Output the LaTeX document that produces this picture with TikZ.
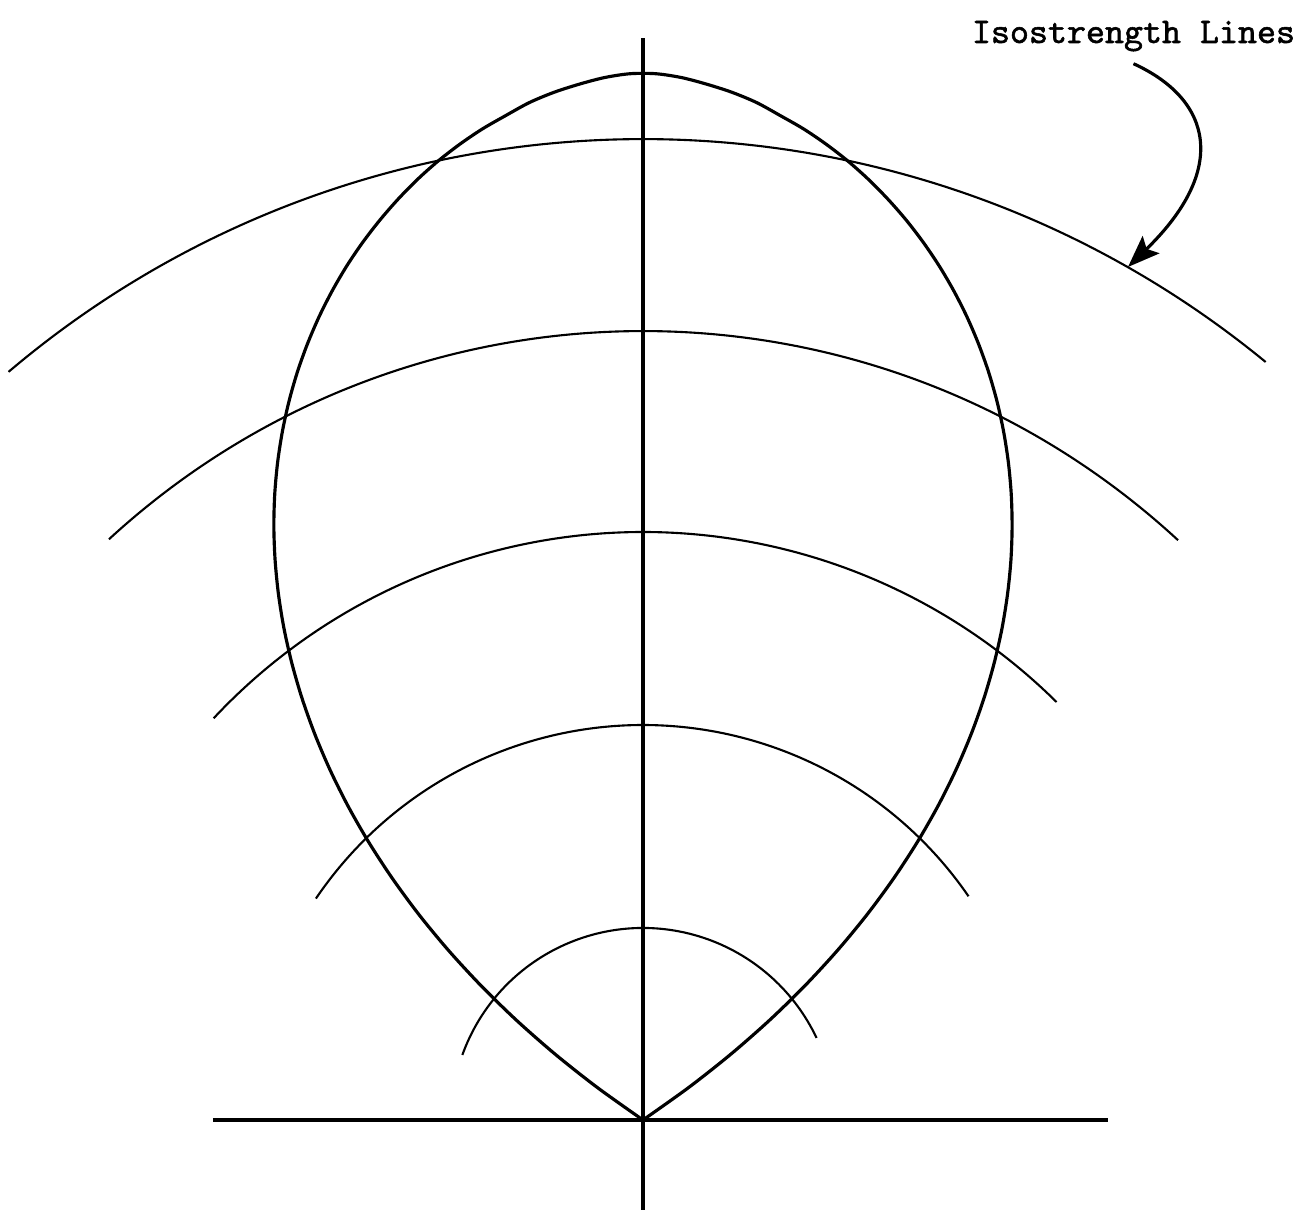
\documentclass[tikz,border=0pt]{standalone}
\usepackage{fontspec}
\newfontfamily\tagfont{lmmono10-regular.otf}[FakeBold=1.5]
\usetikzlibrary{arrows.meta}

\begin{document}
\begin{tikzpicture}[
    lobe/.style={line width=0.9pt, line join=round},
    axisline/.style={line width=0.9pt},
    isoline/.style={line width=0.6pt},
    pointer/.style={line width=0.9pt, -{Stealth[length=3.2mm,width=2.4mm,inset=0.6mm]}},
    tag/.style={font=\fontsize{10.3}{12}\selectfont\tagfont}
]
\useasboundingbox (-6.43,-0.92) rectangle (6.70,11.20);

% Define points
\coordinate (O) at (0,0);
\coordinate (top) at (0,10.82);
\coordinate (bottom) at (0,-0.90);
\coordinate (west) at (-4.30,0);
\coordinate (east) at (4.65,0);
\coordinate (hit) at (4.85,8.53);

% Axes
\draw[axisline] (bottom) -- (top);
\draw[axisline] (west) -- (east);

% Lobe
\draw[lobe] plot[smooth, domain=-56:56, samples=80, variable=\t]
    ({10.47*(1-(abs(\t)/56)^(1.70+0.008*abs(\t)))*sin(\t)},
     {10.47*(1-(abs(\t)/56)^(1.70+0.008*abs(\t)))*cos(\t)});

% Isostrength lines
\foreach \r/\a/\b in {9.81/130.3/50.6, 7.89/132.6/47.3, 5.88/136.9/45.3,
                      3.95/145.9/34.5, 1.92/160.2/25.3}
    \draw[isoline] (\a:\r) arc[start angle=\a, end angle=\b, radius=\r];

% Label
\node[tag, anchor=base] (lbl) at (4.905,10.77) {Isostrength Lines};
\draw[pointer] (lbl.south) .. controls (5.70,10.20) and (5.85,9.50) .. (hit);

\end{tikzpicture}
\end{document}
